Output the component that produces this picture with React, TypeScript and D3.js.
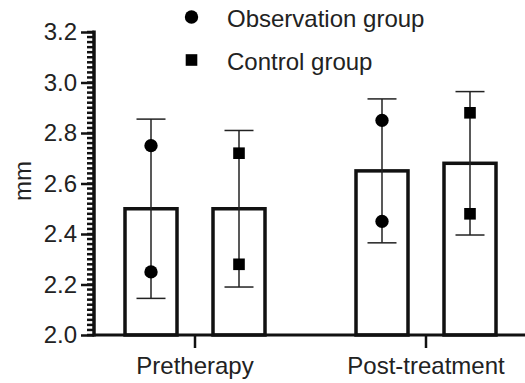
import { useEffect, useRef } from "react";
import * as d3 from "d3";

const categories = ["Pretherapy", "Post-treatment"];
const seriesNames = ["Observation group", "Control group"];
// bar heights (mean), error half-widths (SD) and the two individual points per bar
const obsMean = [2.5, 2.65];
const obsSD = [0.355, 0.285];
const obsPoints = [
  [2.75, 2.25],
  [2.85, 2.45],
];
const ctrlMean = [2.5, 2.68];
const ctrlSD = [0.31, 0.284];
const ctrlPoints = [
  [2.72, 2.28],
  [2.88, 2.48],
];
const yTicks = [2.0, 2.2, 2.4, 2.6, 2.8, 3.0, 3.2];

const W = 525;
const H = 383;
const FONT = "'Liberation Sans', Arial, sans-serif";

export default function App() {
  const svgRef = useRef<SVGSVGElement>(null);

  useEffect(() => {
    if (!svgRef.current) return;
    const svg = d3.select(svgRef.current);
    svg.selectAll("*").remove();

    const axisX = 94;
    const y = d3.scaleLinear().domain([2.0, 3.2]).range([335, 32]);
    const x0 = d3.scaleBand().domain(categories).range([79.5, 541.5]);
    const x1 = d3.scaleBand().domain(seriesNames).range([-88, 88]);
    const barW = 52;

    const series = [
      { name: seriesNames[0], mean: obsMean, sd: obsSD, pts: obsPoints, shape: d3.symbolCircle },
      { name: seriesNames[1], mean: ctrlMean, sd: ctrlSD, pts: ctrlPoints, shape: d3.symbolSquare },
    ];

    const g = svg.append("g");

    // bars, error bars, points
    series.forEach((s) => {
      categories.forEach((c, i) => {
        const cx = (x0(c) ?? 0) + x0.bandwidth() / 2 + (x1(s.name) ?? 0) + x1.bandwidth() / 2;
        g.append("rect")
          .attr("x", cx - barW / 2)
          .attr("y", y(s.mean[i]))
          .attr("width", barW)
          .attr("height", y(2.0) - y(s.mean[i]))
          .attr("fill", "white")
          .attr("stroke", "#111")
          .attr("stroke-width", 3.5);

        const hi = y(s.mean[i] + s.sd[i]);
        const lo = y(s.mean[i] - s.sd[i]);
        g.append("line")
          .attr("x1", cx).attr("x2", cx).attr("y1", hi).attr("y2", lo)
          .attr("stroke", "#222").attr("stroke-width", 1.5);
        [hi, lo].forEach((yy) => {
          g.append("line")
            .attr("x1", cx - 14.5).attr("x2", cx + 14.5).attr("y1", yy).attr("y2", yy)
            .attr("stroke", "#222").attr("stroke-width", 1.5);
        });

        s.pts[i].forEach((v) => {
          g.append("path")
            .attr("d", d3.symbol().type(s.shape).size(s.shape === d3.symbolCircle ? 140 : 135)())
            .attr("transform", `translate(${cx},${y(v)})`)
            .attr("fill", "#000");
        });
      });
    });

    // y axis
    const yAxis = svg.append("g").attr("transform", `translate(${axisX},0)`);
    const minor = d3.range(2.0, 3.2001, 0.02);
    minor.forEach((v) => {
      yAxis.append("line")
        .attr("x1", -7).attr("x2", 0).attr("y1", y(v)).attr("y2", y(v))
        .attr("stroke", "#111").attr("stroke-width", 2);
    });
    yAxis
      .call(d3.axisLeft(y).tickValues(yTicks).tickSize(13).tickPadding(4).tickFormat(d3.format(".1f")))
      .call((a) => a.select(".domain").remove())
      .call((a) => a.selectAll("line").attr("stroke", "#111").attr("stroke-width", 2.5))
      .call((a) =>
        a.selectAll("text").attr("fill", "#222").attr("font-size", 24).attr("font-family", FONT)
      );
    yAxis.append("line")
      .attr("x1", 0).attr("x2", 0).attr("y1", y(3.2) - 1.5).attr("y2", y(2.0) + 1.5)
      .attr("stroke", "#111").attr("stroke-width", 3.5);

    // x axis
    const xAxis = svg.append("g");
    xAxis.append("line")
      .attr("x1", axisX).attr("x2", W).attr("y1", y(2.0)).attr("y2", y(2.0))
      .attr("stroke", "#111").attr("stroke-width", 3);
    categories.forEach((c) => {
      const cx = (x0(c) ?? 0) + x0.bandwidth() / 2;
      xAxis.append("line")
        .attr("x1", cx).attr("x2", cx).attr("y1", y(2.0)).attr("y2", y(2.0) + 13)
        .attr("stroke", "#111").attr("stroke-width", 2.5);
      xAxis.append("text")
        .attr("x", cx).attr("y", 373.5)
        .attr("text-anchor", "middle")
        .attr("font-size", 24).attr("font-family", FONT).attr("fill", "#222")
        .text(c);
    });

    // y label
    svg.append("text")
      .attr("transform", `translate(31,181) rotate(-90)`)
      .attr("text-anchor", "middle")
      .attr("font-size", 24).attr("font-family", FONT).attr("fill", "#222")
      .text("mm");

    // legend
    series.forEach((s, i) => {
      const ly = 17 + i * 43;
      svg.append("path")
        .attr("d", d3.symbol().type(s.shape).size(s.shape === d3.symbolCircle ? 140 : 135)())
        .attr("transform", `translate(191.5,${ly})`)
        .attr("fill", "#000");
      svg.append("text")
        .attr("x", 227).attr("y", ly + 9.5)
        .attr("font-size", 24).attr("font-family", FONT).attr("fill", "#222")
        .text(s.name);
    });
  }, []);

  return (
    <svg
      ref={svgRef}
      width={W}
      height={H}
      viewBox={`0 0 ${W} ${H}`}
      style={{ position: "absolute", left: 0, top: 0, background: "white" }}
    />
  );
}
